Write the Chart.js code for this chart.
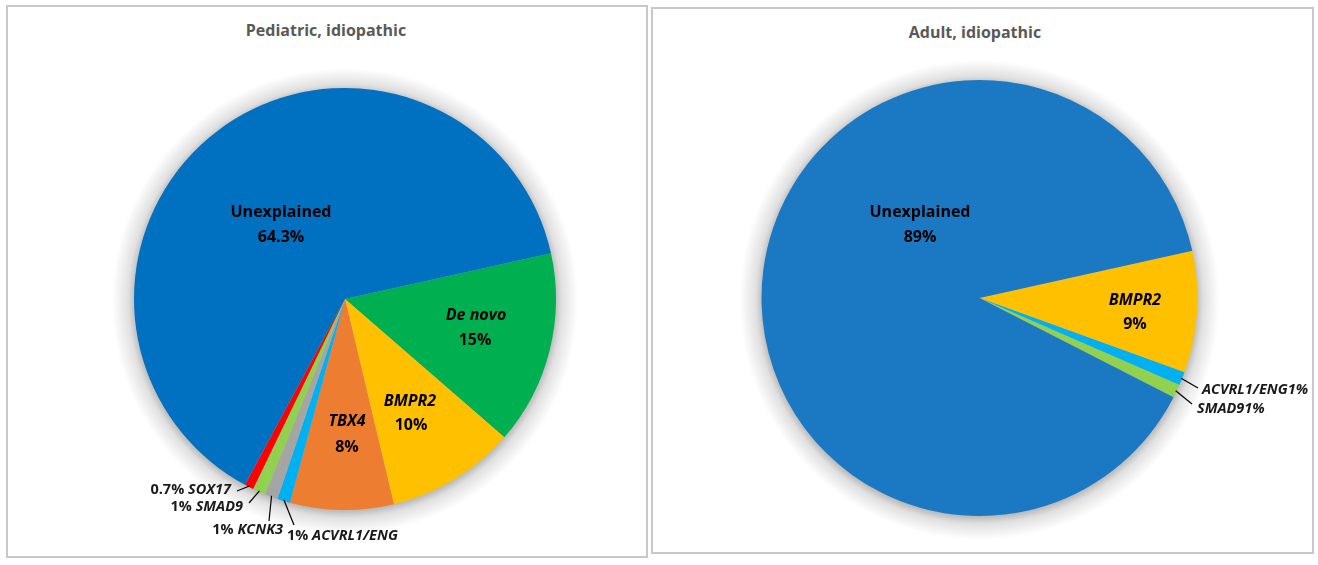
<!DOCTYPE html>
<html><head><meta charset="utf-8">
<script src="https://cdn.jsdelivr.net/npm/chart.js@4/dist/chart.umd.min.js"></script>
<style>
html,body{margin:0;padding:0;background:#fff;}
body{width:1318px;height:565px;position:relative;overflow:hidden;}
.panel{position:absolute;border:2px solid #c8c8c8;box-sizing:border-box;}
.title{position:absolute;font:bold 16px "Open Sans", sans-serif;color:#595959;text-align:center;}
canvas{position:absolute;}
</style></head><body>
<div class="panel" style="left:6px;top:5px;width:642px;height:553px"></div>
<div class="panel" style="left:651px;top:7px;width:663px;height:547px"></div>
<div class="title" style="left:6px;top:19px;width:640px">Pediatric, idiopathic</div>
<div class="title" style="left:651px;top:21px;width:648px">Adult, idiopathic</div>
<canvas id="ped" style="left:0;top:0;width:649px;height:565px" width="649" height="565"></canvas>
<canvas id="adult" style="left:649px;top:0;width:669px;height:565px" width="669" height="565"></canvas>
<script>
// ---- data ----
const pedLabels = ['De novo', 'BMPR2', 'TBX4', 'ACVRL1/ENG', 'KCNK3', 'SMAD9', 'SOX17', 'Unexplained'];
const pedValues = [15, 10, 8, 1, 1, 1, 0.7, 64.3];
const pedColors = ['#00B050', '#FFC000', '#ED7D31', '#00B0F0', '#A5A5A5', '#92D050', '#FF0000', '#0070C0'];
const pedItalic = [true, true, true, true, true, true, true, false];

const adultLabels = ['BMPR2', 'ACVRL1/ENG', 'SMAD9', 'Unexplained'];
const adultValues = [9, 1, 1, 89];
const adultColors = ['#FFC000', '#00B0F0', '#92D050', '#1B78C2'];
const adultItalic = [true, true, true, false];

// ---- label placement (page coordinates) ----
const pedLabelStyle = [
  {inside: true, name: [476, 315], pct: [475, 340]},
  {inside: true, name: [410, 401], pct: [411, 425]},
  {inside: true, name: [347, 421], pct: [347, 447]},
  {inside: false, order: 'pctFirst', align: 'left', x: 287, y: 536, line: [294, 525]},
  {inside: false, order: 'pctFirst', align: 'right', x: 283, y: 530, line: [269, 521]},
  {inside: false, order: 'pctFirst', align: 'right', x: 243, y: 507, line: [249, 503]},
  {inside: false, order: 'pctFirst', align: 'right', x: 231, y: 490, line: [237, 491]},
  {inside: true, name: [281, 212], pct: [281, 237]}
];
const adultLabelStyle = [
  {inside: true, name: [1135, 300], pct: [1135, 324]},
  {inside: false, order: 'nameFirst', align: 'left', x: 1202, y: 390, line: [1198, 388], allItalic: true},
  {inside: false, order: 'nameFirst', align: 'left', x: 1197, y: 409, line: [1192, 404], allItalic: true},
  {inside: true, name: [920, 212], pct: [920, 237]}
];

const FONT = '"Open Sans", sans-serif';
const IN_SIZE = 16;
const OUT_SIZE = 14.5;

const shadowPlugin = {
  id: 'softShadow',
  beforeDatasetsDraw(chart) {
    const arc = chart.getDatasetMeta(0).data[0];
    if (!arc) return;
    const ctx = chart.ctx;
    const r = arc.outerRadius;
    ctx.save();
    const g = ctx.createRadialGradient(arc.x, arc.y + 2, r - 3, arc.x, arc.y + 2, r + 22);
    g.addColorStop(0, 'rgba(0,0,0,0.30)');
    g.addColorStop(0.35, 'rgba(0,0,0,0.12)');
    g.addColorStop(1, 'rgba(0,0,0,0)');
    ctx.fillStyle = g;
    ctx.beginPath();
    ctx.arc(arc.x, arc.y + 2, r + 22, 0, Math.PI * 2);
    ctx.fill();
    ctx.restore();
  }
};

function drawSegments(ctx, segs, x, y, align) {
  let total = 0;
  segs.forEach(s => { ctx.font = s.font; s.w = ctx.measureText(s.text).width; total += s.w; });
  let cx = align === 'left' ? x : (align === 'right' ? x - total : x - total / 2);
  ctx.textAlign = 'left';
  segs.forEach(s => { ctx.font = s.font; ctx.fillText(s.text, cx, y); cx += s.w; });
}

const labelPlugin = {
  id: 'sliceLabels',
  afterDatasetsDraw(chart, args, opts) {
    const ctx = chart.ctx;
    const meta = chart.getDatasetMeta(0);
    const labels = chart.data.labels;
    const values = chart.data.datasets[0].data;
    const ox = opts.offsetX;
    ctx.save();
    ctx.textBaseline = 'middle';
    meta.data.forEach((arc, i) => {
      const st = opts.styles[i];
      const italic = opts.italic[i];
      const pctText = values[i] + '%';
      if (st.inside) {
        const bold = `bold ${IN_SIZE}px ${FONT}`;
        const boldIt = `italic bold ${IN_SIZE}px ${FONT}`;
        ctx.fillStyle = '#000000';
        ctx.textAlign = 'center';
        ctx.font = italic ? boldIt : bold;
        ctx.fillText(labels[i], st.name[0] - ox, st.name[1]);
        ctx.font = bold;
        ctx.fillText(pctText, st.pct[0] - ox, st.pct[1]);
      } else {
        const bold = `bold ${OUT_SIZE}px ${FONT}`;
        const boldIt = `italic bold ${OUT_SIZE}px ${FONT}`;
        const mid = (arc.startAngle + arc.endAngle) / 2;
        const r = arc.outerRadius - 1;
        const ex = arc.x + Math.cos(mid) * r;
        const ey = arc.y + Math.sin(mid) * r;
        ctx.strokeStyle = '#000000';
        ctx.lineWidth = 1.2;
        ctx.beginPath();
        ctx.moveTo(st.line[0] - ox, st.line[1]);
        ctx.lineTo(ex, ey);
        ctx.stroke();
        ctx.fillStyle = '#1a1a1a';
        let segs;
        if (st.order === 'pctFirst') {
          segs = [{text: pctText + ' ', font: bold}, {text: labels[i], font: boldIt}];
        } else {
          segs = [{text: labels[i], font: boldIt}, {text: pctText, font: st.allItalic ? boldIt : bold}];
        }
        drawSegments(ctx, segs, st.x - ox, st.y, st.align);
      }
    });
    ctx.restore();
  }
};

function makePie(id, labels, values, colors, italic, styles, offsetX, padding) {
  return new Chart(document.getElementById(id), {
    type: 'pie',
    data: {
      labels: labels,
      datasets: [{data: values, backgroundColor: colors, borderWidth: 0, hoverOffset: 0}]
    },
    options: {
      responsive: false,
      animation: false,
      rotation: 77.5,
      layout: {padding: padding},
      plugins: {
        legend: {display: false},
        tooltip: {enabled: false},
        sliceLabels: {styles: styles, italic: italic, offsetX: offsetX}
      },
      events: []
    },
    plugins: [shadowPlugin, labelPlugin]
  });
}

makePie('ped', pedLabels, pedValues, pedColors, pedItalic, pedLabelStyle, 0,
  {left: 134, right: 93, top: 88, bottom: 55});
makePie('adult', adultLabels, adultValues, adultColors, adultItalic, adultLabelStyle, 649,
  {left: 112.5, right: 120.5, top: 80, bottom: 49});
</script>
</body></html>
